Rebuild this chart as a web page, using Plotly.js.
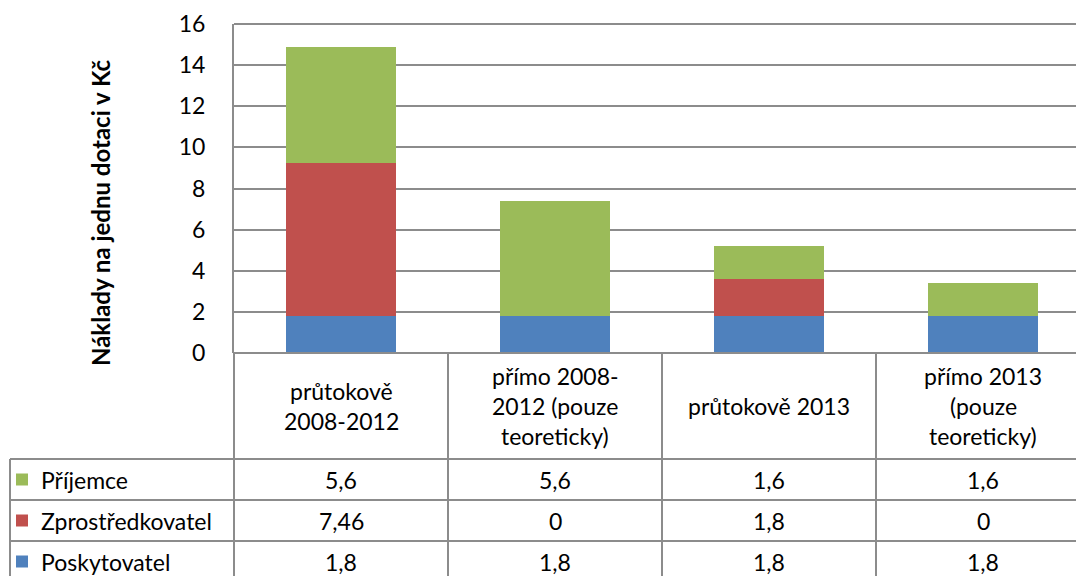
<!DOCTYPE html>
<html>
<head>
<meta charset="utf-8">
<script src="https://cdn.plot.ly/plotly-3.0.1.min.js"></script>
<style>html,body{margin:0;padding:0;background:#fff;}#chart{width:1076px;height:576px;}</style>
</head>
<body>
<div id="chart"></div>
<script>
const categories = ["průtokově\n2008-2012", "přímo 2008-\n2012 (pouze\nteoreticky)", "průtokově 2013", "přímo 2013\n(pouze\nteoreticky)"];
const seriesNames = ["Příjemce", "Zprostředkovatel", "Poskytovatel"];
const prijemce = [5.6, 5.6, 1.6, 1.6];
const zprostredkovatel = [7.46, 0, 1.8, 0];
const poskytovatel = [1.8, 1.8, 1.8, 1.8];
const yTicks = [0, 2, 4, 6, 8, 10, 12, 14, 16];
const yTitle = "Náklady na jednu dotaci v Kč";

const colors = {"Příjemce": "#9BBB59", "Zprostředkovatel": "#C0504D", "Poskytovatel": "#4F81BD"};
const seriesValues = {"Příjemce": prijemce, "Zprostředkovatel": zprostredkovatel, "Poskytovatel": poskytovatel};

const W = 1076, H = 576;
const mL = 234, mR = 0, mT = 24, mB = 223;
const plotH = H - mT - mB;
const xRange = [-0.5, -0.5 + (W - mL - mR) / 214];
const FONT = "Lato, 'Open Sans', sans-serif";
const gridColor = "#8c8c8c";
const fs = 23;

const idx = categories.map((c, i) => i);

const traces = ["Poskytovatel", "Zprostředkovatel", "Příjemce"].map(name => ({
  type: "bar",
  name: name,
  x: idx,
  y: seriesValues[name],
  width: 0.51,
  marker: {color: colors[name], line: {width: 0}},
  showlegend: false,
  hoverinfo: "y+name"
}));

function py(p) { return (H - mB - p) / plotH; }
function px(xv) { return (xv - xRange[0]) / (xRange[1] - xRange[0]); }

const headerBottom = 459, rowH = 41;
const shapes = [];
const annotations = [];
const lineStyle = {color: gridColor, width: 2};
const leftEdge = -224 / (W - mL);

shapes.push({type: "line", xref: "paper", yref: "paper", x0: leftEdge, x1: 1, y0: py(headerBottom), y1: py(headerBottom), line: lineStyle});
for (let r = 1; r <= 3; r++) {
  const yy = headerBottom + r * rowH;
  shapes.push({type: "line", xref: "paper", yref: "paper", x0: leftEdge, x1: 1, y0: py(yy), y1: py(yy), line: lineStyle});
}
shapes.push({type: "line", xref: "paper", yref: "paper", x0: leftEdge, x1: leftEdge, y0: py(headerBottom), y1: py(H + 5), line: lineStyle});
for (let i = 0; i < categories.length; i++) {
  const xv = px(i - 0.5);
  if (xv > 1) continue;
  shapes.push({type: "line", xref: "paper", yref: "paper", x0: xv, x1: xv, y0: 0, y1: py(H + 5), line: lineStyle});
}

categories.forEach((c, i) => {
  const lines = c.split("\n");
  const lh = 30;
  const center = (H - mB + headerBottom) / 2;
  lines.forEach((ln, k) => {
    const yc = center + (k - (lines.length - 1) / 2) * lh;
    annotations.push({xref: "x", yref: "paper", x: i, y: py(yc), text: ln, showarrow: false,
      xanchor: "center", yanchor: "middle", font: {family: FONT, size: fs, color: "#000"}});
  });
});

seriesNames.forEach((name, r) => {
  const yc = headerBottom + r * rowH + rowH / 2;
  shapes.push({type: "rect", xref: "paper", yref: "paper",
    x0: -218 / (W - mL), x1: -206 / (W - mL), y0: py(yc - 6), y1: py(yc + 6),
    fillcolor: colors[name], line: {width: 0}});
  annotations.push({xref: "paper", yref: "paper", x: -195 / (W - mL), y: py(yc), text: name, showarrow: false,
    xanchor: "left", yanchor: "middle", font: {family: FONT, size: fs, color: "#000"}});
  seriesValues[name].forEach((v, i) => {
    annotations.push({xref: "x", yref: "paper", x: i, y: py(yc), text: String(v).replace(".", ","), showarrow: false,
      xanchor: "center", yanchor: "middle", font: {family: FONT, size: fs, color: "#000"}});
  });
});

annotations.push({xref: "paper", yref: "paper", x: (100 - mL) / (W - mL), y: py(213), text: "<b>" + yTitle + "</b>",
  textangle: -90, showarrow: false, xanchor: "center", yanchor: "middle",
  font: {family: FONT, size: 24, color: "#000"}});

shapes.push({type: "line", xref: "paper", yref: "paper", x0: 0, x1: 1, y0: 0, y1: 0, line: lineStyle});
shapes.push({type: "line", xref: "paper", yref: "paper", x0: 0, x1: 1, y0: 1, y1: 1, line: lineStyle});

const layout = {
  width: W, height: H,
  margin: {l: mL, r: mR, t: mT, b: mB, pad: 0},
  paper_bgcolor: "#fff", plot_bgcolor: "#fff",
  barmode: "stack",
  showlegend: false,
  xaxis: {range: xRange, showticklabels: false, ticks: "", showgrid: false, zeroline: false,
    showline: false, fixedrange: true},
  yaxis: {range: [0, 16], tickvals: yTicks, ticktext: yTicks.map(String), ticks: "", ticklabelstandoff: 22,
    showgrid: true, gridcolor: gridColor, gridwidth: 2, zeroline: false,
    showline: true, linecolor: gridColor, linewidth: 2, mirror: false,
    tickfont: {family: FONT, size: fs, color: "#000"}, fixedrange: true},
  shapes: shapes,
  annotations: annotations
};

Plotly.newPlot("chart", traces, layout, {displayModeBar: false, staticPlot: true});
</script>
</body>
</html>
